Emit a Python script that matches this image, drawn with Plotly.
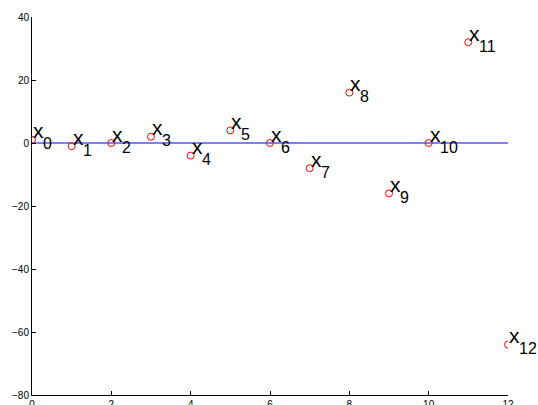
import plotly.graph_objects as go

# sample index and values
n = list(range(13))
values = [1, -1, 0, 2, -4, 4, 0, -8, 16, -16, 0, 32, -64]
subs = [str(i) for i in n]
baseline = [0] * len(n)

fig = go.Figure()

fig.add_trace(go.Scatter(
    x=n, y=baseline, mode="lines",
    line=dict(color="blue", width=1),
    hoverinfo="skip", showlegend=False,
))

fig.add_trace(go.Scatter(
    x=n, y=values, mode="markers",
    marker=dict(symbol="circle-open", color="red", size=7, line=dict(width=1)),
    showlegend=False,
))

lab_font = "Liberation Sans, Arial"
for xi, yi, s in zip(n, values, subs):
    # the "x" and its subscript as two pieces, like MATLAB's tex x_n
    fig.add_annotation(
        x=xi, y=yi, text="x", showarrow=False,
        xanchor="left", yanchor="middle", xshift=-1, yshift=9,
        font=dict(size=21, color="black", family=lab_font),
    )
    fig.add_annotation(
        x=xi, y=yi, text=s, showarrow=False,
        xanchor="left", yanchor="middle", xshift=9, yshift=-4,
        font=dict(size=16, color="black", family=lab_font),
    )

axis_style = dict(
    showline=True, linecolor="black", linewidth=1,
    ticks="inside", ticklen=4, tickcolor="black",
    showgrid=False, zeroline=False, automargin=False,
    tickfont=dict(size=10, color="black", family=lab_font),
)
fig.update_xaxes(range=[0, 12], tickvals=list(range(0, 13, 2)), **axis_style)
fig.update_yaxes(range=[-80, 40], tickvals=list(range(-80, 41, 20)),
                 ticklabelstandoff=0, **axis_style)

fig.update_layout(
    width=538, height=405,
    margin=dict(l=32, r=30, t=17, b=10),
    plot_bgcolor="white", paper_bgcolor="white",
    font=dict(family=lab_font, color="black"),
)

# drop the default page margin so the figure fills the window exactly
fig.write_html(
    "out.html",
    config={"displayModeBar": False},
    post_script="document.body.style.margin='0';document.body.style.overflow='hidden';",
)
